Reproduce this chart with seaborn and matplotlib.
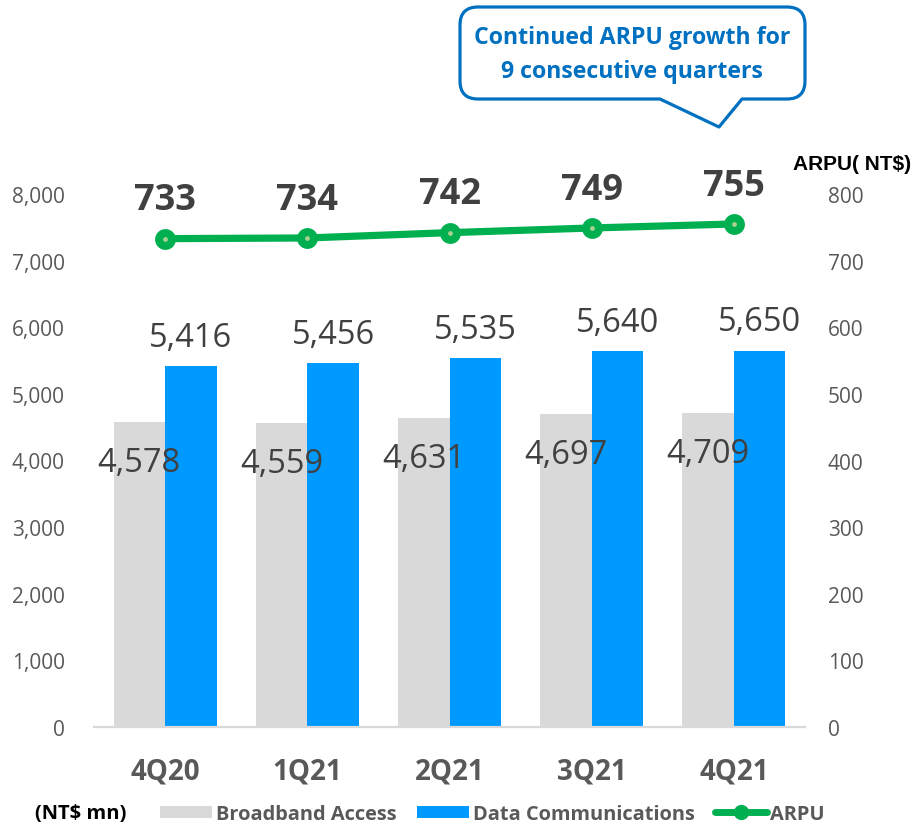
import numpy as np
import pandas as pd
import seaborn as sns
import matplotlib
matplotlib.use("Agg")
import matplotlib.pyplot as plt
from matplotlib.path import Path
from matplotlib.patches import PathPatch, Patch
from matplotlib.lines import Line2D

# ---------------- data ----------------
quarters = ["4Q20", "1Q21", "2Q21", "3Q21", "4Q21"]
broadband = [4578, 4559, 4631, 4697, 4709]
datacom = [5416, 5456, 5535, 5640, 5650]
arpu = [733, 734, 742, 749, 755]
series_names = ["Broadband Access", "Data Communications"]
left_ticks = [0, 1000, 2000, 3000, 4000, 5000, 6000, 7000, 8000]
right_ticks = [0, 100, 200, 300, 400, 500, 600, 700, 800]
callout_lines = ["Continued ARPU growth for", "9 consecutive quarters"]

# ---------------- style ----------------
GRAY = "#D9D9D9"
BLUE = "#0099FF"
GREEN = "#00B050"
DOT = "#A9D18E"
TXT = "#404040"
TICK = "#595959"
CALL = "#0070C0"

sns.set_theme(style="white")
plt.rcParams["font.family"] = ["Open Sans", "DejaVu Sans"]

W, H = 913, 828
fig = plt.figure(figsize=(W / 100, H / 100), dpi=100)
fig.patch.set_facecolor("white")


def fx(x):
    return x / W


def fy(y):
    return 1 - y / H


ax = fig.add_axes([fx(94), fy(728), (805 - 94) / W, (728 - 195) / H])

df = pd.DataFrame({
    "quarter": quarters * 2,
    "segment": [series_names[0]] * len(quarters) + [series_names[1]] * len(quarters),
    "value": broadband + datacom,
})
BAR_W = 0.725
sns.barplot(data=df, x="quarter", y="value", hue="segment",
            palette=[GRAY, BLUE], width=BAR_W, gap=0, saturation=1,
            errorbar=None, legend=False, linewidth=0, edgecolor="none", ax=ax)

ax.set_ylim(0, 8000)
ax.set_xlim(-0.5, len(quarters) - 0.5)
ax.set_yticks(left_ticks)
ax.set_yticklabels([f"{v:,}" for v in left_ticks], color=TICK, fontsize=15)
ax.tick_params(axis="y", length=0, pad=21)
ax.tick_params(axis="x", length=0, pad=21)
for lab in ax.get_xticklabels():
    lab.set_fontweight("bold")
    lab.set_fontsize(20)
    lab.set_color(TICK)
ax.set_xlabel("")
ax.set_ylabel("")
for s in ["top", "left", "right"]:
    ax.spines[s].set_visible(False)
ax.spines["bottom"].set_color(GRAY)
ax.spines["bottom"].set_linewidth(1.6)
ax.grid(False)

# bar labels
off = BAR_W / 4
for i, (b, d) in enumerate(zip(broadband, datacom)):
    ax.text(i - off, b - 736, f"{b:,}", ha="center", va="baseline",
            fontsize=23.5, color=TXT, clip_on=False)
    ax.text(i + off, d + 310, f"{d:,}", ha="center", va="baseline",
            fontsize=23.5, color=TXT, clip_on=False)

# ARPU line on right axis
ax2 = ax.twinx()
xpos = np.arange(len(quarters))
sns.lineplot(x=xpos, y=arpu, ax=ax2, color=GREEN, linewidth=5.2,
             marker="o", markersize=15, markeredgewidth=0,
             markerfacecolor=GREEN, legend=False)
sns.scatterplot(x=xpos, y=arpu, ax=ax2, color=DOT, s=12, linewidth=0,
                legend=False, zorder=5)
ax2.set_ylim(0, 800)
ax2.set_xlim(-0.5, len(quarters) - 0.5)
ax2.set_yticks(right_ticks)
ax2.set_yticklabels([str(v) for v in right_ticks], color=TICK, fontsize=15)
ax2.tick_params(axis="y", length=0, pad=16.5)
ax2.set_ylabel("")
for s in ["top", "left", "right", "bottom"]:
    ax2.spines[s].set_visible(False)
ax2.grid(False)

for i, a in enumerate(arpu):
    ax2.text(i, a + 44, f"{a}", ha="center", va="baseline", fontsize=26,
             fontweight="bold", color=TXT, clip_on=False)

# axis titles
fig.text(fx(793), fy(165), "ARPU( NT$)", ha="left", va="center",
         fontsize=15, fontweight="bold", color="black",
         family=["Liberation Sans", "DejaVu Sans"])
fig.text(fx(35), fy(814), "(NT$ mn)", ha="left", va="center",
         fontsize=14.5, fontweight="bold", color="black")

# legend
handles = [
    Patch(facecolor=GRAY, edgecolor="none"),
    Patch(facecolor=BLUE, edgecolor="none"),
    Line2D([], [], color=GREEN, linewidth=5, marker="o", markersize=11,
           markeredgewidth=0, markerfacecolor=GREEN),
]
fig.legend(handles, series_names + ["ARPU"], loc="center left",
           bbox_to_anchor=(fx(150), fy(815)), ncol=3, frameon=False,
           borderpad=0, handlelength=2.6, handleheight=0.6,
           handletextpad=0.2, columnspacing=1.0, labelcolor=TICK,
           prop=dict(family="Open Sans", weight="bold", size=14.4))

# callout box
x0, y0, x1, y1, r = 460, 8, 805, 100, 18
tl, tip, tr = (660, y1), (719, 128), (742, y1)
pts = [
    ((x0 + r, y0), Path.MOVETO),
    ((x1 - r, y0), Path.LINETO),
    ((x1, y0), Path.CURVE3), ((x1, y0 + r), Path.CURVE3),
    ((x1, y1 - r), Path.LINETO),
    ((x1, y1), Path.CURVE3), ((x1 - r, y1), Path.CURVE3),
    (tr, Path.LINETO),
    (tip, Path.LINETO),
    (tl, Path.LINETO),
    ((x0 + r, y1), Path.LINETO),
    ((x0, y1), Path.CURVE3), ((x0, y1 - r), Path.CURVE3),
    ((x0, y0 + r), Path.LINETO),
    ((x0, y0), Path.CURVE3), ((x0 + r, y0), Path.CURVE3),
    ((x0 + r, y0), Path.CLOSEPOLY),
]
verts = [(fx(p[0]), fy(p[1])) for p, _ in pts]
codes = [c for _, c in pts]
callout = PathPatch(Path(verts, codes), transform=fig.transFigure,
                    facecolor="white", edgecolor=CALL, linewidth=2.3,
                    joinstyle="round")
fig.add_artist(callout)
fig.text(fx(632), fy(38), callout_lines[0], ha="center", va="center",
         fontsize=16.7, fontweight="bold", color=CALL)
fig.text(fx(632), fy(72), callout_lines[1], ha="center", va="center",
         fontsize=16.7, fontweight="bold", color=CALL)

fig.savefig("out.png", dpi=100, facecolor="white")
